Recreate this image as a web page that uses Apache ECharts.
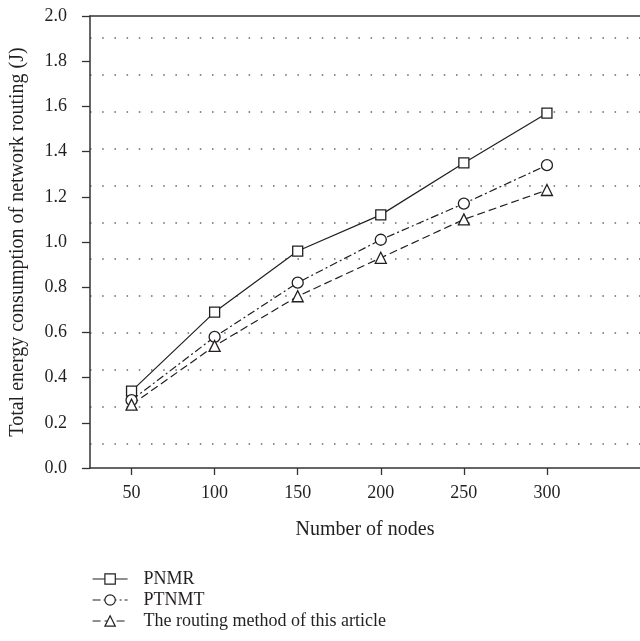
<!DOCTYPE html>
<html>
<head>
<meta charset="utf-8">
<script src="https://cdn.jsdelivr.net/npm/echarts@6/dist/echarts.min.js"></script>
<style>html,body{margin:0;padding:0;background:#fff}#c{width:640px;height:641px}</style>
</head>
<body>
<div id="c"></div>
<script>
const nodes = [50, 100, 150, 200, 250, 300];
const seriesNames = ['PNMR', 'PTNMT', 'The routing method of this article'];
const pnmr = [0.34, 0.69, 0.96, 1.12, 1.35, 1.57];
const ptnmt = [0.30, 0.58, 0.82, 1.01, 1.17, 1.34];
const proposed = [0.28, 0.54, 0.76, 0.93, 1.10, 1.23];
const yTicks = [0, 0.2, 0.4, 0.6, 0.8, 1.0, 1.2, 1.4, 1.6, 1.8, 2.0];

const FONT = 'Liberation Serif';
const INK = '#231f20';
const chart = echarts.init(document.getElementById('c'));

function pairs(vals) { return nodes.map((n, i) => [n, vals[i]]); }

const mk = (name, vals, symbol, size, dash) => ({
  name, type: 'line', data: pairs(vals), symbol, symbolSize: size,
  xAxisIndex: 0, yAxisIndex: 0,
  lineStyle: { color: INK, width: 1.2, type: dash },
  itemStyle: { color: '#fff', borderColor: INK, borderWidth: 1.3 },
  emphasis: { disabled: true }, z: 3
});

chart.setOption({
  animation: false,
  backgroundColor: '#fff',
  textStyle: { fontFamily: FONT, color: INK },
  grid: { left: 90, right: 0, top: 16, bottom: 173, containLabel: false },
  xAxis: [{
    type: 'value', min: 25, max: 356,
    name: 'Number of nodes', nameLocation: 'middle', nameGap: 52,
    nameTextStyle: { fontFamily: FONT, fontSize: 20, color: INK },
    axisLine: { show: true, onZero: false, lineStyle: { color: '#333', width: 1.5 } },
    axisTick: { show: true, length: 7, customValues: nodes, lineStyle: { color: '#333', width: 1.3 } },
    axisLabel: { customValues: nodes, fontFamily: FONT, fontSize: 18, color: INK, margin: 16 },
    splitLine: { show: false }
  }, {
    type: 'value', position: 'top', min: 25, max: 356,
    axisLine: { show: true, onZero: false, lineStyle: { color: '#333', width: 1.5 } },
    axisTick: { show: false }, axisLabel: { show: false }, splitLine: { show: false }
  }],
  yAxis: [{
    type: 'value', min: 0, max: 2,
    name: 'Total energy consumption of network routing (J)', nameLocation: 'middle', nameGap: 62,
    nameTextStyle: { fontFamily: FONT, fontSize: 20, color: INK },
    axisLine: { show: true, onZero: false, lineStyle: { color: '#333', width: 1.5 } },
    axisTick: { show: true, length: 8, customValues: yTicks, lineStyle: { color: '#333', width: 1.3 } },
    axisLabel: { customValues: yTicks, fontFamily: FONT, fontSize: 18, color: INK, margin: 23,
      formatter: v => v.toFixed(1) },
    splitLine: { show: false }
  }, {
    type: 'value', position: 'left', min: 0.338, max: 12.593, splitNumber: 12,
    axisLine: { show: false }, axisTick: { show: false }, axisLabel: { show: false },
    splitLine: { show: true, showMinLine: false, showMaxLine: false,
      lineStyle: { color: '#666', width: 1.5, type: [1.5, 10.7] } }
  }],
  legend: {
    orient: 'vertical', left: 92, top: 570, bottom: 0, padding: 0, itemGap: 3,
    itemWidth: 35, itemHeight: 13,
    textStyle: { fontFamily: FONT, fontSize: 18, color: INK, padding: [0, 0, 0, 11] },
    lineStyle: { width: 1.2 },
    itemStyle: { borderWidth: 1.2 },
    data: seriesNames
  },
  series: [
    mk(seriesNames[0], pnmr, 'rect', 10, 'solid'),
    mk(seriesNames[1], ptnmt, 'circle', 11, [8, 3, 2, 3]),
    mk(seriesNames[2], proposed, 'triangle', 11, [8, 4])
  ]
});
</script>
</body>
</html>
